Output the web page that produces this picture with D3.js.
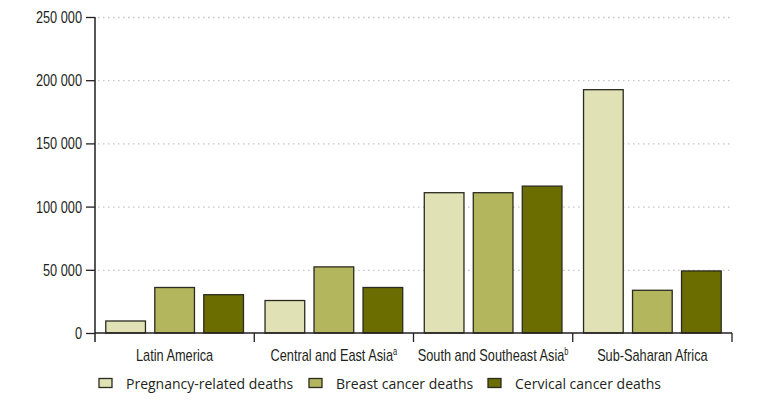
<!DOCTYPE html>
<html>
<head>
<meta charset="utf-8">
<style>
  body { margin:0; background:#fff; }
  .axis text { font-family:"Liberation Sans",Arial,sans-serif; font-size:17px; fill:#231f20; }
  .legend text { font-family:"Open Sans","Noto Sans",sans-serif; font-size:14px; fill:#231f20; }
</style>
</head>
<body>
<div id="chart"></div>
<script src="https://cdn.jsdelivr.net/npm/d3@7/dist/d3.min.js"></script>
<script>
// regions along the x axis
var regions = ["Latin America", "Central and East Asia", "South and Southeast Asia", "Sub-Saharan Africa"];
var footnotes = ["", "a", "b", ""];

// series (deaths per year)
var seriesNames = ["Pregnancy-related deaths", "Breast cancer deaths", "Cervical cancer deaths"];
var pregnancy = [9500, 25700, 111000, 192500];
var breast    = [36000, 52300, 111000, 33800];
var cervical  = [30300, 36000, 116200, 49100];
var colors = ["#e0e2b6", "#b4b65d", "#6b6d00"];

var yTicks = [0, 50000, 100000, 150000, 200000, 250000];

var width = 771, height = 402;
var margin = {left:95, right:39, top:17, bottom:69};
var squeeze = 0.75; // condensed look for axis labels

var svg = d3.select('#chart').append('svg')
    .attr('width', width).attr('height', height);

var x0 = d3.scaleBand().domain(regions)
    .range([margin.left, width - margin.right]);
var x1 = d3.scaleBand().domain(d3.range(3))
    .range([0, x0.bandwidth()]).paddingInner(0.19).paddingOuter(0.22);
var y = d3.scaleLinear().domain([0, 250000])
    .range([height - margin.bottom, margin.top]);

var fmt = d => d3.format(",")(d).replace(/,/g, " ");

// dotted gridlines
svg.append('g').selectAll('line')
    .data(yTicks.slice(1))
    .enter().append('line')
    .attr('x1', margin.left + 3).attr('x2', width - margin.right)
    .attr('y1', d => y(d) + 0.5).attr('y2', d => y(d) + 0.5)
    .attr('stroke', '#c4c4c4').attr('stroke-width', 1.3)
    .attr('stroke-dasharray', '1.5,3.5');

// bars
var table = regions.map((r, i) => [pregnancy[i], breast[i], cervical[i]]);
svg.append('g').selectAll('g')
    .data(table).enter().append('g')
    .attr('transform', (d, i) => 'translate(' + x0(regions[i]) + ',0)')
    .selectAll('rect')
    .data(d => d).enter().append('rect')
    .attr('x', (d, j) => x1(j))
    .attr('width', x1.bandwidth())
    .attr('y', d => y(d))
    .attr('height', d => y(0) - y(d))
    .attr('fill', (d, j) => colors[j])
    .attr('stroke', '#2b2b20').attr('stroke-width', 1.3);

// y axis
var yAxis = svg.append('g').attr('class', 'axis')
    .attr('transform', 'translate(' + margin.left + ',0)')
    .call(d3.axisLeft(y).tickValues(yTicks).tickFormat(fmt).tickSize(9).tickPadding(4));
yAxis.select('.domain').remove();
yAxis.selectAll('line').attr('stroke', '#231f20').attr('stroke-width', 1.3);
yAxis.selectAll('text').each(function() {
    var t = d3.select(this);
    t.attr('x', +t.attr('x') / squeeze).attr('transform', 'scale(' + squeeze + ',1)');
});
yAxis.append('line')
    .attr('x1', 0).attr('x2', 0)
    .attr('y1', y(250000)).attr('y2', y(0) + 9)
    .attr('stroke', '#231f20').attr('stroke-width', 1.5);

// x axis
var xAxis = svg.append('g').attr('class', 'axis')
    .attr('transform', 'translate(0,' + y(0) + ')');
xAxis.append('line')
    .attr('x1', margin.left).attr('x2', width - margin.right)
    .attr('stroke', '#231f20').attr('stroke-width', 1.3);
var bounds = regions.map(r => x0(r)).concat([width - margin.right]);
xAxis.selectAll('.sep').data(bounds.slice(1)).enter().append('line')
    .attr('class', 'sep')
    .attr('x1', d => d).attr('x2', d => d)
    .attr('y1', 0).attr('y2', 9)
    .attr('stroke', '#231f20').attr('stroke-width', 1.3);
var lab = xAxis.selectAll('.lab').data(regions).enter().append('text')
    .attr('class', 'lab')
    .attr('x', d => (x0(d) + x0.bandwidth() / 2) / squeeze)
    .attr('y', 28)
    .attr('transform', 'scale(' + squeeze + ',1)')
    .attr('text-anchor', 'middle');
lab.append('tspan').text(d => d);
lab.append('tspan').text((d, i) => footnotes[i])
    .attr('font-size', '10px').attr('dy', '-6');

// legend
var legX = [99, 309, 488];
var leg = svg.append('g').attr('class', 'legend')
    .selectAll('g').data(seriesNames).enter().append('g')
    .attr('transform', (d, i) => 'translate(' + legX[i] + ',378.5)');
leg.append('rect')
    .attr('width', 13).attr('height', 9)
    .attr('fill', (d, i) => colors[i])
    .attr('stroke', '#2b2b20').attr('stroke-width', 1.3);
leg.append('text')
    .attr('x', 27).attr('y', 10)
    .text(d => d);
</script>
</body>
</html>
